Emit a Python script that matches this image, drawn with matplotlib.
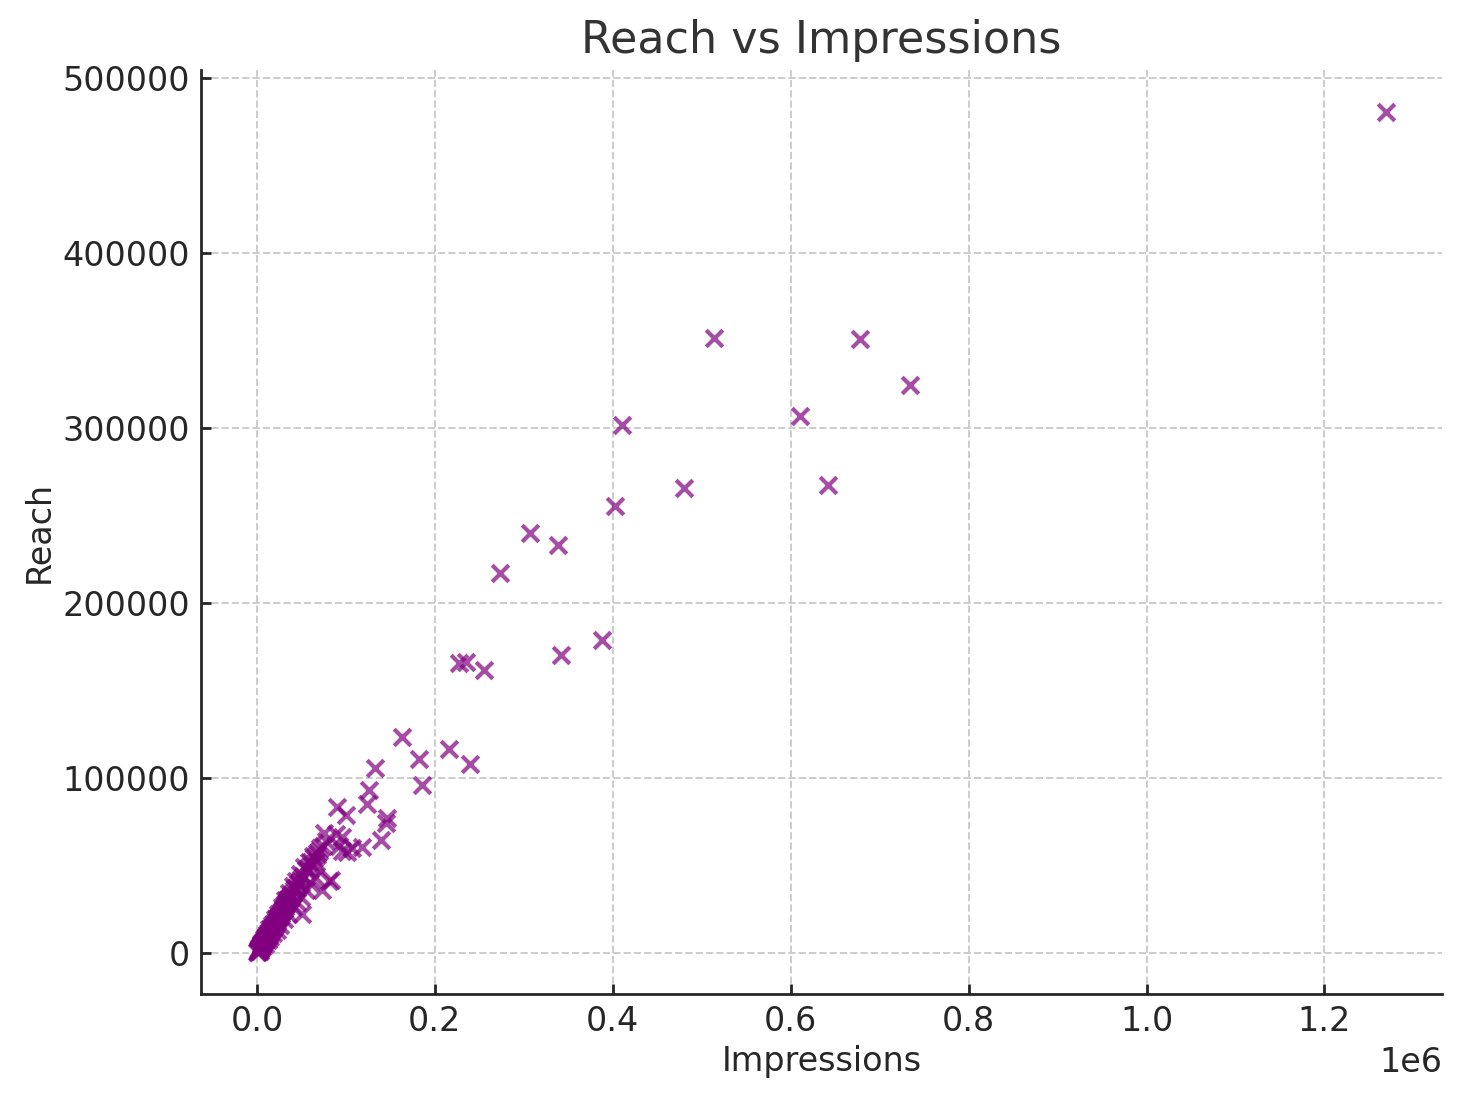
import matplotlib
matplotlib.use('Agg')
import matplotlib.pyplot as plt
import numpy as np

# impressions / reach, in thousands
impr_far=[1268.7,513.3,677.7,734.0,610.2,409.8,641.7,479.6,403.0,307.3,338.9,273.6,
          387.3,342.2,227.4,235.3,255.5,163.2,216.1,182.4,239.8,132.8,185.7,126.1,
          123.9,90.1,100.0,146.3,145.2,139.6,118.2,101.3,75.1,88.9,95.7,106.9,70.4,
          83.3,73.1,50.7,81.0,66.0,96.0,92.0]
reach_far=[480.5,351.3,350.7,324.4,306.6,301.5,267.2,265.4,255.1,239.7,232.8,216.8,
           178.5,169.9,165.3,165.9,161.3,123.0,116.1,110.4,107.6,105.3,95.5,93.0,
           84.7,83.0,78.4,76.7,73.8,64.1,60.1,57.2,68.1,67.5,65.8,60.0,59.5,
           41.2,35.5,22.3,41.0,51.5,58.0,61.0]

impr_core=[0.5,1,1.5,2,2.5,3,3,4,4,5,5,6,6,7,8,8,9,9,10,11,11,12,12,13,14,14,15,15,
           16,17,17,18,18,19,20,20,21,22,22,23,24,24,25,26,26,27,28,28,29,30,30,31,
           32,32,33,34,35,35,36,36,37,38,40,40,40,42,44,44,45,46,48,48,50,50,52,53,
           55,55,58,58,60,61,63,64,65,67,68,70,74,78,
           1,2,3,4,5,6,7,9,10,13,16,19,23,27,31,34,38,43,47,56,62]
reach_core=[0.3,0.5,1,1.5,2.5,1,2,3.5,4.5,4,5,4.5,3,6,6.5,8,7,5,8,9,10.5,10,7,10,11,
            13.5,12,9,13,14,16,14,11,15,16,19,17,18,13,19,20,22,21,21,16,22,24,26,25,
            25,19,26,27,30,28,29,30,22,31,34,31,33,34,26,38,36,37,41,29,39,41,45,42,
            32,44,49,47,36,49,52,40,52,55,54,43,56,57,58,61,64,
            1.2,2.2,3.2,3.8,4.2,5.5,5.2,8.5,9.5,12,14,17,20,23,28,30,32,37,40,48,50]

impressions=np.array(impr_far+impr_core)*1000
reach=np.array(reach_far+reach_core)*1000

plt.rcParams['font.family']='DejaVu Sans'
plt.rcParams['text.color']='#262626'
plt.rcParams['axes.labelcolor']='#262626'
plt.rcParams['xtick.color']='#262626'
plt.rcParams['ytick.color']='#262626'

fig=plt.figure(figsize=(7.305,5.505),dpi=200)
ax=fig.add_axes([0.1376,0.0972,0.8494,0.8392])
ax.scatter(impressions,reach,marker='x',color='purple',alpha=0.7,s=36,linewidths=1.5)
ax.set_title('Reach vs Impressions',fontsize=16,color='#333333',pad=6)
ax.set_xlabel('Impressions',fontsize=12,labelpad=2.5)
ax.set_ylabel('Reach',fontsize=12,labelpad=2.5)
ax.tick_params(labelsize=12,length=3.5,width=1,direction='in',pad=4)
ax.xaxis.get_offset_text().set_fontsize(12)
ax.grid(True,linestyle='--',color='#cccccc',linewidth=0.7)
ax.set_axisbelow(True)
for s in ['top','right']:
    ax.spines[s].set_visible(False)
for s in ['left','bottom']:
    ax.spines[s].set_color('#262626')
    ax.spines[s].set_linewidth(1)
fig.savefig('out.png',dpi=200)
